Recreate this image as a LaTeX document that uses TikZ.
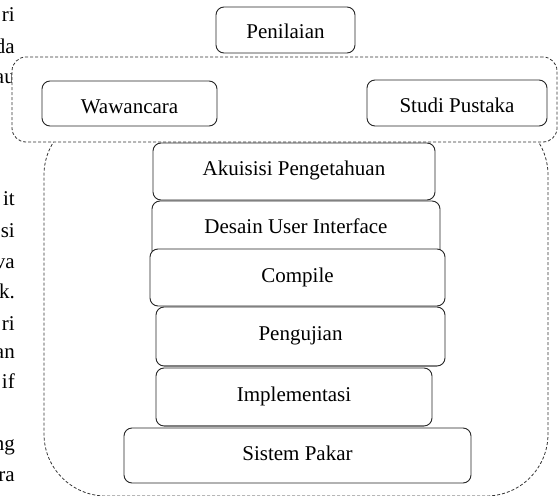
\documentclass[tikz,border=0pt]{standalone}
\usepackage{fontspec}
\setmainfont{Liberation Serif}
\begin{document}
\begin{tikzpicture}[x=1pt,y=-1pt,
  txt/.style={font=\fontsize{21pt}{25pt}\selectfont},
  stepbox/.style={txt, draw=black!85, line width=0.9pt, fill=white,
    rounded corners=8pt, inner sep=0pt, outer sep=0pt, text depth=0pt},
  grp/.style={draw=black!80, line width=0.8pt, dash pattern=on 3pt off 2pt,
    inner sep=0pt, outer sep=0pt},
  edge shade/.style={draw=black!50, line width=1.8pt},
  frag/.style={txt, anchor=base east, inner sep=0pt}]
\useasboundingbox (0,0) rectangle (559,495);
\clip (0,0) rectangle (559,495);

% line ends of the surrounding paragraph text
\node[frag] (f1)  at (15,22)  {ri};
\node[frag] (f2)  at (15,53)  {da};
\node[frag] (f3)  at (15,83)  {au};
\node[frag] (f4)  at (15,205) {it};
\node[frag] (f5)  at (15,237) {si};
\node[frag] (f6)  at (15,268) {va};
\node[frag] (f7)  at (15,298) {k.};
\node[frag] (f8)  at (15,330) {ri};
\node[frag] (f9)  at (15,358) {an};
\node[frag] (f10) at (15,388) {if};
\node[frag] (f11) at (15,450) {ng};
\node[frag] (f12) at (15,481) {ra};

% group frames
\node[grp, rounded corners=62pt, minimum width=504pt, minimum height=383pt]
  (lower) at (296,304.5) {};
\node[grp, fill=white, rounded corners=14pt, minimum width=545pt, minimum height=85pt]
  (upper) at (284.5,99.5) {};

% top box and data sources
\node[stepbox, minimum width=139pt, minimum height=46pt, text height=16pt]
  (pen) at (285.5,30) {Penilaian};
\node[stepbox, minimum width=175pt, minimum height=45pt, text height=19pt]
  (waw) at (129.5,103.5) {Wawancara};
\node[stepbox, minimum width=180pt, minimum height=46pt, text height=18pt]
  (stu) at (457,103) {Studi Pustaka};

% stacked stages
\node[stepbox, minimum width=282pt, minimum height=57pt, text height=7pt]
  (aku) at (294,171.5) {Akuisisi Pengetahuan};
\node[stepbox, minimum width=288pt, minimum height=57pt, text height=7pt]
  (des) at (296,229.5) {Desain User Interface};
\node[stepbox, minimum width=295pt, minimum height=57pt, text height=9pt]
  (com) at (297.5,277.5) {Compile};
\node[stepbox, minimum width=289pt, minimum height=59pt, text height=7pt]
  (pgj) at (300.5,336.5) {Pengujian};
\draw[edge shade] ([xshift=8pt]pgj.south west) -- ([xshift=-8pt]pgj.south east);
\node[stepbox, minimum width=276pt, minimum height=58pt, text height=8pt]
  (imp) at (294,397) {Implementasi};
\draw[edge shade] ([xshift=8pt]imp.south west) -- ([xshift=-8pt]imp.south east);
\node[stepbox, minimum width=347pt, minimum height=55pt, text height=9pt]
  (sis) at (297.5,455.5) {Sistem Pakar};
\end{tikzpicture}
\end{document}
